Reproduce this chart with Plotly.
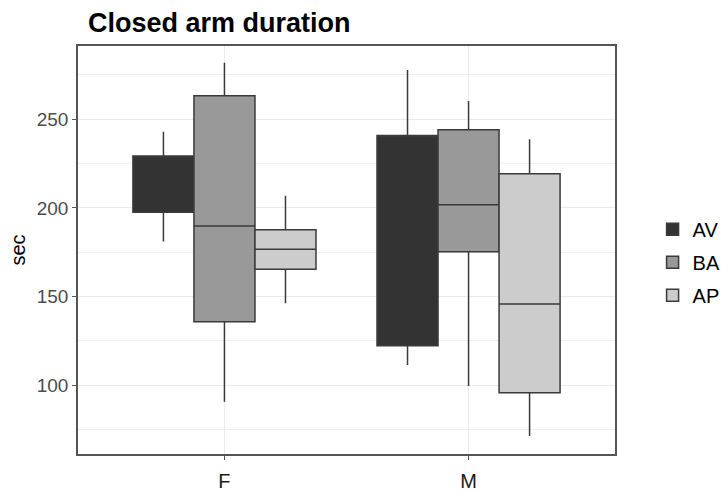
import plotly.graph_objects as go

groups = ["F", "M"]
series = ["AV", "BA", "AP"]
colors = ["#333333", "#999999", "#cccccc"]

lower = {"AV": [181, 111.4], "BA": [90.7, 99.6], "AP": [146.2, 71.4]}
q1 = {"AV": [197.5, 122.3], "BA": [135.8, 175.3], "AP": [165.4, 95.8]}
median = {"AV": [229.3, 240.8], "BA": [189.8, 201.7], "AP": [176.7, 145.8]}
q3 = {"AV": [229.3, 240.8], "BA": [263.2, 244.0], "AP": [187.6, 219.2]}
upper = {"AV": [243, 277.8], "BA": [281.9, 260.3], "AP": [206.9, 238.7]}

fig = go.Figure()
for s, c in zip(series, colors):
    fig.add_trace(go.Box(
        name=s, x=groups,
        lowerfence=lower[s], q1=q1[s], median=median[s], q3=q3[s], upperfence=upper[s],
        fillcolor=c, line=dict(color="#3a3a3a", width=1.5),
        whiskerwidth=0, legendgroup=s, boxpoints=False,
    ))

fig.update_layout(
    width=724, height=491,
    margin=dict(l=78, r=109, t=46, b=37, autoexpand=False),
    paper_bgcolor="white", plot_bgcolor="white",
    boxmode="group", boxgap=0.25, boxgroupgap=0,
    font=dict(family="Liberation Sans, Arial, sans-serif"),
    title=dict(text="<b>Closed arm duration</b>", x=88/724, xanchor="left",
               xref="container", y=1-23/491, yref="container", yanchor="middle",
               font=dict(size=27, color="black")),
    legend=dict(x=1.07, y=0.47, xanchor="left", yanchor="middle",
                font=dict(size=20, color="black"), tracegroupgap=4,
                bgcolor="rgba(0,0,0,0)"),
    showlegend=True,
)
fig.update_xaxes(
    range=[-0.6, 1.6], showline=True, mirror=True, linecolor="#555555", linewidth=1.5,
    showgrid=True, gridcolor="#ebebeb", gridwidth=1,
    ticks="outside", ticklen=4, tickcolor="#555555", ticklabelstandoff=4,
    tickfont=dict(size=20, color="#1a1a1a"), zeroline=False, automargin=False,
)
fig.update_yaxes(
    range=[61.2, 291.3], showline=True, mirror=True, linecolor="#555555", linewidth=1.5,
    showgrid=True, gridcolor="#ebebeb", gridwidth=1.2, tick0=0, dtick=50,
    minor=dict(tick0=25, dtick=50, showgrid=True, gridcolor="#f0f0f0", gridwidth=0.8, ticks=""),
    ticks="outside", ticklen=4, tickcolor="#555555",
    tickfont=dict(size=19, color="#4d4d4d"), zeroline=False, automargin=False,
    title=dict(text="sec", font=dict(size=20, color="black"), standoff=6),
)
fig.write_html("out.html")
